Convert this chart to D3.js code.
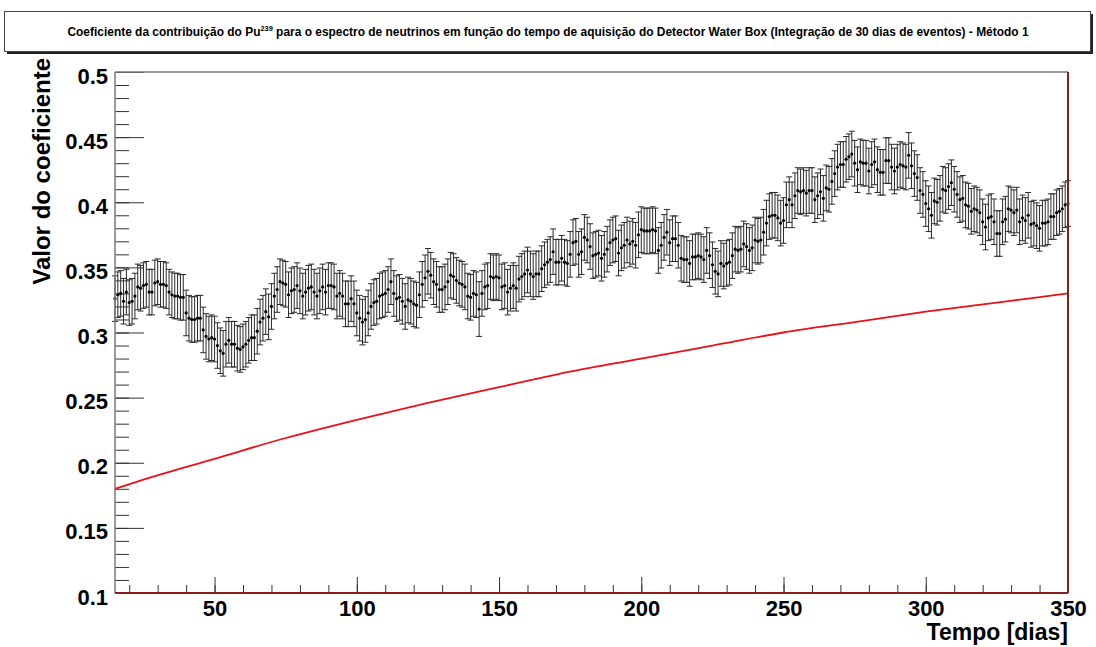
<!DOCTYPE html>
<html>

<head>
    <meta charset="utf-8">
    <title>Coeficiente Pu239</title>
    <script src="https://d3js.org/d3.v7.min.js"></script>
    <style>
        html,
        body {
            margin: 0;
            padding: 0;
            background: white;
        }

        text {
            font-family: "Liberation Sans", Arial, Helvetica, sans-serif;
            font-weight: bold;
        }
    </style>
</head>

<body>

    <div id="chart"></div>

    <script>
        // First day of the measured series (one point per day)
        const firstDay = 15;

        // Coefficient values, day 15 .. day 350
        const coefValues = [
            // days 15-82
            0.326, 0.329, 0.330, 0.324, 0.331, 0.323, 0.324, 0.328, 0.335, 0.334,
            0.336, 0.337, 0.331, 0.331, 0.338, 0.339, 0.337, 0.337, 0.336, 0.331,
            0.329, 0.328, 0.328, 0.327, 0.327, 0.315, 0.311, 0.310, 0.310, 0.311,
            0.311, 0.302, 0.297, 0.295, 0.296, 0.295, 0.290, 0.286, 0.284, 0.291,
            0.294, 0.291, 0.291, 0.288, 0.287, 0.289, 0.291, 0.294, 0.296, 0.296,
            0.301, 0.308, 0.311, 0.316, 0.312, 0.320, 0.328, 0.333, 0.339, 0.338,
            0.337, 0.329, 0.332, 0.333, 0.336, 0.332, 0.328, 0.331,
            // days 83-151
            0.334, 0.335, 0.331, 0.328, 0.332, 0.335, 0.331, 0.336, 0.336, 0.335,
            0.328, 0.330, 0.328, 0.322, 0.322, 0.326, 0.322, 0.315, 0.311, 0.308,
            0.310, 0.315, 0.320, 0.323, 0.324, 0.328, 0.329, 0.330, 0.333, 0.339,
            0.330, 0.326, 0.327, 0.324, 0.320, 0.325, 0.324, 0.322, 0.321, 0.329,
            0.337, 0.342, 0.347, 0.344, 0.339, 0.337, 0.333, 0.333, 0.335, 0.339,
            0.344, 0.343, 0.340, 0.338, 0.337, 0.335, 0.328, 0.327, 0.330, 0.329,
            0.318, 0.330, 0.335, 0.336, 0.343, 0.342, 0.343, 0.342, 0.335,
            // days 152-219
            0.336, 0.331, 0.334, 0.336, 0.334, 0.341, 0.343, 0.345, 0.348, 0.345,
            0.343, 0.345, 0.345, 0.349, 0.352, 0.354, 0.356, 0.362, 0.354, 0.354,
            0.357, 0.354, 0.353, 0.360, 0.369, 0.370, 0.360, 0.362, 0.373, 0.371,
            0.366, 0.359, 0.360, 0.361, 0.357, 0.360, 0.364, 0.369, 0.371, 0.372,
            0.361, 0.365, 0.367, 0.371, 0.368, 0.370, 0.367, 0.375, 0.379, 0.378,
            0.378, 0.378, 0.379, 0.378, 0.363, 0.367, 0.373, 0.377, 0.369, 0.372,
            0.372, 0.367, 0.357, 0.356, 0.356, 0.353, 0.358, 0.358,
            // days 220-288
            0.359, 0.358, 0.356, 0.363, 0.359, 0.352, 0.347, 0.345, 0.353, 0.351,
            0.353, 0.354, 0.359, 0.364, 0.363, 0.364, 0.368, 0.366, 0.363, 0.365,
            0.371, 0.370, 0.371, 0.377, 0.384, 0.389, 0.390, 0.390, 0.388, 0.384,
            0.386, 0.398, 0.402, 0.398, 0.405, 0.409, 0.408, 0.409, 0.407, 0.409,
            0.409, 0.402, 0.405, 0.408, 0.403, 0.411, 0.410, 0.416, 0.422, 0.427,
            0.429, 0.429, 0.433, 0.435, 0.437, 0.430, 0.425, 0.431, 0.430, 0.430,
            0.424, 0.429, 0.431, 0.425, 0.423, 0.423, 0.432, 0.432, 0.427,
            // days 289-350
            0.424, 0.427, 0.429, 0.428, 0.427, 0.436, 0.428, 0.422, 0.419, 0.409,
            0.406, 0.399, 0.395, 0.390, 0.401, 0.400, 0.403, 0.410, 0.409, 0.412,
            0.415, 0.410, 0.406, 0.402, 0.403, 0.398, 0.397, 0.393, 0.395, 0.394,
            0.392, 0.385, 0.381, 0.388, 0.389, 0.385, 0.376, 0.376, 0.385, 0.387,
            0.395, 0.394, 0.392, 0.394, 0.385, 0.388, 0.386, 0.390, 0.383, 0.384,
            0.382, 0.380, 0.384, 0.384, 0.385, 0.389, 0.389, 0.392, 0.393, 0.395,
            0.398, 0.399
        ];

        // Half-length of the error bars
        const coefError = 0.0175;
        // one point has a wider error bar
        const wideErrorDays = [143];
        const wideError = 0.021;

        // Red reference curve, read at a few days
        const curveDays = [15, 25, 50, 75, 100, 125, 150, 175, 200, 225, 250, 275, 300, 325, 350];
        const curveValues = [0.180, 0.187, 0.203, 0.219, 0.233, 0.246, 0.258, 0.270, 0.280, 0.290, 0.300, 0.308, 0.316, 0.323, 0.330];

        // Axis ticks
        const xMajorTicks = [50, 100, 150, 200, 250, 300, 350];
        const yMajorTicks = [0.1, 0.15, 0.2, 0.25, 0.3, 0.35, 0.4, 0.45, 0.5];

        const titleMain = "Coeficiente da contribuição do Pu";
        const titleSup = "239";
        const titleRest = " para o espectro de neutrinos em função do tempo de aquisição do Detector Water Box (Integração de 30 dias de eventos) - Método 1";
        const xTitle = "Tempo [dias]";
        const yTitle = "Valor do coeficiente";

        const dataset = coefValues.map((v, i) => {
            const day = firstDay + i;
            return { day: day, value: v, err: wideErrorDays.includes(day) ? wideError : coefError };
        });
        const curve = curveDays.map((d, i) => ({ day: d, value: curveValues[i] }));

        // Layout
        const W = 1096, H = 647;
        const margins = { top: 72, right: 28, bottom: 54, left: 115 };
        const width = W - margins.left - margins.right;
        const height = H - margins.top - margins.bottom;

        const svg = d3.select("#chart")
            .append("svg")
            .attr("width", W)
            .attr("height", H);

        svg.append("rect")
            .attr("width", W)
            .attr("height", H)
            .style("fill", "white");

        // Title box with shadow
        svg.append("rect")
            .attr("x", 7).attr("y", 14)
            .attr("width", 1086).attr("height", 40)
            .style("fill", "#222");
        svg.append("rect")
            .attr("x", 4.5).attr("y", 11.5)
            .attr("width", 1086).attr("height", 40)
            .style("fill", "white")
            .style("stroke", "#444")
            .style("stroke-width", 1);

        const title = svg.append("text")
            .attr("x", W / 2)
            .attr("y", 36)
            .attr("text-anchor", "middle")
            .style("font-size", "11px")
            .style("fill", "black");
        title.append("tspan").text(titleMain);
        title.append("tspan").text(titleSup)
            .attr("dy", -5)
            .style("font-size", "7px");
        title.append("tspan").text(titleRest)
            .attr("dy", 5);

        // fit the title to the width seen in the picture
        const tw = title.node().getComputedTextLength();
        const fs = 11 * 962 / tw;
        title.style("font-size", fs + "px");
        title.selectAll("tspan").filter((d, i) => i === 1).style("font-size", (fs * 0.62) + "px");

        const chartArea = svg.append("g")
            .attr("transform", `translate(${margins.left},${margins.top})`);

        // Scales
        const x = d3.scaleLinear()
            .domain([15, 350])
            .range([0, width]);

        const y = d3.scaleLinear()
            .domain([0.1, 0.5])
            .range([height, 0]);

        // X axis minor ticks (every 10 days) and major ticks
        chartArea.append("g")
            .attr("transform", `translate(0,${height})`)
            .call(d3.axisBottom(x)
                .tickValues(d3.range(20, 351, 10))
                .tickSize(-8)
                .tickFormat(""))
            .call(g => g.select(".domain").remove())
            .selectAll("line").style("stroke", "#333");

        chartArea.append("g")
            .attr("transform", `translate(0,${height})`)
            .call(d3.axisBottom(x)
                .tickValues(xMajorTicks)
                .tickSize(-16)
                .tickPadding(7)
                .tickFormat(d3.format("d")))
            .call(g => g.select(".domain").remove())
            .call(g => g.selectAll("line").style("stroke", "#333"))
            .selectAll("text")
            .style("font-size", "22px")
            .style("font-family", "'Liberation Sans', Arial, sans-serif")
            .style("font-weight", "bold")
            .style("fill", "black");

        // Y axis minor ticks (every 0.01) and major ticks
        chartArea.append("g")
            .call(d3.axisLeft(y)
                .tickValues(d3.range(10, 51, 1).map(d => d / 100))
                .tickSize(-14)
                .tickFormat(""))
            .call(g => g.select(".domain").remove())
            .selectAll("line").style("stroke", "#333");

        chartArea.append("g")
            .call(d3.axisLeft(y)
                .tickValues(yMajorTicks)
                .tickSize(-29)
                .tickPadding(7)
                .tickFormat(d => d3.format("")(+d.toFixed(2))))
            .call(g => g.select(".domain").remove())
            .call(g => g.selectAll("line").style("stroke", "#333"))
            .selectAll("text")
            .attr("dy", "0.5em")
            .style("font-size", "22px")
            .style("font-family", "'Liberation Sans', Arial, sans-serif")
            .style("font-weight", "bold")
            .style("fill", "black");

        // Red curve
        const line = d3.line()
            .x(d => x(d.day))
            .y(d => y(d.value))
            .curve(d3.curveMonotoneX);

        chartArea.append("path")
            .datum(curve)
            .attr("d", line)
            .style("fill", "none")
            .style("stroke", "#e8101a")
            .style("stroke-width", 1.8);

        // Error bars
        const bars = chartArea.append("g")
            .selectAll("g")
            .data(dataset)
            .enter()
            .append("g")
            .style("stroke", "#2a2a2a")
            .style("stroke-width", 1);

        bars.append("line")
            .attr("x1", d => x(d.day))
            .attr("x2", d => x(d.day))
            .attr("y1", d => y(d.value - d.err))
            .attr("y2", d => y(d.value + d.err));

        bars.append("line")
            .attr("x1", d => x(d.day) - 3)
            .attr("x2", d => x(d.day) + 3)
            .attr("y1", d => y(d.value + d.err))
            .attr("y2", d => y(d.value + d.err));

        bars.append("line")
            .attr("x1", d => x(d.day) - 3)
            .attr("x2", d => x(d.day) + 3)
            .attr("y1", d => y(d.value - d.err))
            .attr("y2", d => y(d.value - d.err));

        // Points
        chartArea.append("g")
            .selectAll("circle")
            .data(dataset)
            .enter()
            .append("circle")
            .attr("cx", d => x(d.day))
            .attr("cy", d => y(d.value))
            .attr("r", 1.6)
            .style("fill", "black");

        // Frame: top/left grey, bottom/right dark red
        chartArea.append("line")
            .attr("x1", 0).attr("x2", width)
            .attr("y1", 0).attr("y2", 0)
            .style("stroke", "#7a7a7a").style("stroke-width", 1.5);
        chartArea.append("line")
            .attr("x1", 0).attr("x2", 0)
            .attr("y1", 0).attr("y2", height)
            .style("stroke", "#7a7a7a").style("stroke-width", 1.5);
        chartArea.append("line")
            .attr("x1", 0).attr("x2", width)
            .attr("y1", height).attr("y2", height)
            .style("stroke", "#8b1c1c").style("stroke-width", 2);
        chartArea.append("line")
            .attr("x1", width).attr("x2", width)
            .attr("y1", 0).attr("y2", height)
            .style("stroke", "#8b1c1c").style("stroke-width", 2);

        // Axis titles
        svg.append("text")
            .attr("x", margins.left + width)
            .attr("y", 640)
            .attr("text-anchor", "end")
            .style("font-size", "23px")
            .style("fill", "black")
            .text(xTitle);

        svg.append("text")
            .attr("transform", `translate(50,${margins.top - 14}) rotate(-90)`)
            .attr("text-anchor", "end")
            .style("font-size", "24px")
            .style("fill", "black")
            .text(yTitle);
    </script>
</body>

</html>
